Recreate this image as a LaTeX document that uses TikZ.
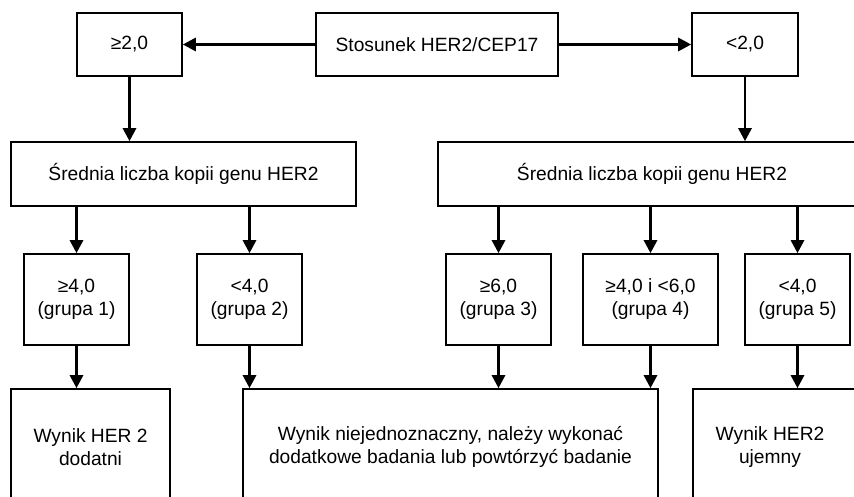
\documentclass[tikz,border=0pt]{standalone}
\usepackage{fontspec}
\setmainfont{Liberation Sans}
\usetikzlibrary{arrows.meta}
\tikzset{
  box/.style={draw, line width=1.6pt, inner sep=0pt, align=center,
    font=\fontsize{19.2}{23}\selectfont},
  lbl/.style={inner sep=0pt, align=center, font=\fontsize{19.2}{23}\selectfont},
  arr/.style={line width=2.8pt, -{Triangle[width=13pt,length=13pt]}}
}
\begin{document}
\begin{tikzpicture}[x=1pt,y=-1pt]
\useasboundingbox (0,0) rectangle (854,497);
\clip (0,0) rectangle (854,497);
\fill[white] (0,0) rectangle (854,497);
% top row
\node[box, minimum width=105, minimum height=63] (ge) at (129.5,44.5) {≥2,0};
\node[box, minimum width=242, minimum height=63] (stos) at (437,44.5) {Stosunek HER2/CEP17};
\node[box, minimum width=106, minimum height=63] (lt) at (745,44.5) {<2,0};
% second row
\node[box, minimum width=345, minimum height=64] (sredL) at (183.5,174) {Średnia liczba kopii genu HER2};
\node[box, minimum width=428, minimum height=64] (sredR) at (652,174) {Średnia liczba kopii genu HER2};
% third row
\node[box, minimum width=105, minimum height=91] (g1) at (76.5,299.5) {≥4,0\\(grupa 1)};
\node[box, minimum width=105, minimum height=91] (g2) at (249.5,299.5) {<4,0\\(grupa 2)};
\node[box, minimum width=105, minimum height=91] (g3) at (498.5,299.5) {≥6,0\\(grupa 3)};
\node[box, minimum width=135, minimum height=91] (g4) at (650.5,299.5) {≥4,0 i <6,0\\(grupa 4)};
\node[box, minimum width=105, minimum height=91] (g5) at (797.5,299.5) {<4,0\\(grupa 5)};
% bottom row
\node[box, minimum width=159, minimum height=116] (res1) at (90.5,447) {Wynik HER 2\\dodatni};
\node[box, minimum width=415, minimum height=116] (res2) at (450.5,447) {Wynik niejednoznaczny, należy wykonać\\dodatkowe badania lub powtórzyć badanie};
\node[box, minimum width=187, minimum height=116] (res3) at (786.5,447) {};
\node[lbl] (res3t) at (770,447) {Wynik HER2\\ujemny};
% connectors
\draw[arr] (stos.west) -- (ge.east);
\draw[arr] (stos.east) -- (lt.west);
\draw[arr] (ge.south) -- (ge.south |- sredL.north);
\draw[arr] (lt.south) -- (lt.south |- sredR.north);
\draw[arr] (g1.north |- sredL.south) -- (g1.north);
\draw[arr] (g2.north |- sredL.south) -- (g2.north);
\draw[arr] (g3.north |- sredR.south) -- (g3.north);
\draw[arr] (g4.north |- sredR.south) -- (g4.north);
\draw[arr] (g5.north |- sredR.south) -- (g5.north);
\draw[arr] (g1.south) -- (g1.south |- res1.north);
\draw[arr] (g2.south) -- (g2.south |- res2.north);
\draw[arr] (g3.south) -- (g3.south |- res2.north);
\draw[arr] (g4.south) -- (g4.south |- res2.north);
\draw[arr] (g5.south) -- (g5.south |- res3.north);
\end{tikzpicture}
\end{document}
